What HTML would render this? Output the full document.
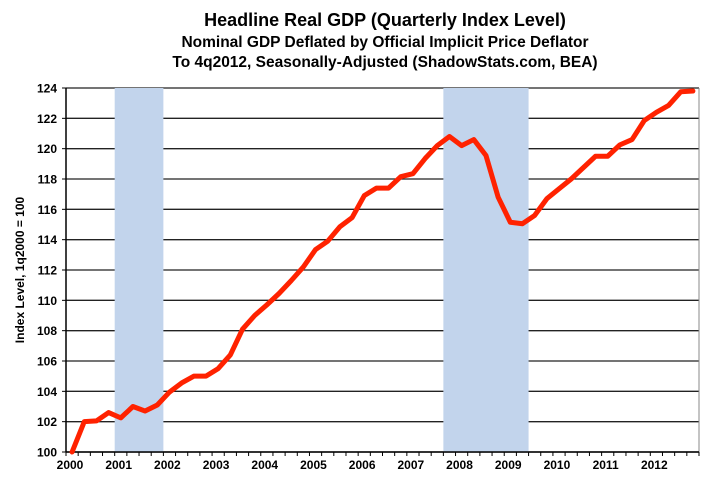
<!DOCTYPE html>
<html><head><meta charset="utf-8"><style>
body{margin:0;background:#fff;}
svg{display:block;font-family:"Liberation Sans",Arial,sans-serif;}
</style></head><body>
<svg id="chart" width="721" height="500" viewBox="0 0 721 500" xmlns="http://www.w3.org/2000/svg">
<g font-weight="bold" text-anchor="middle" fill="#000">
<text x="385" y="26" font-size="18">Headline Real GDP (Quarterly Index Level)</text>
<text x="385" y="47" font-size="15.5">Nominal GDP Deflated by Official Implicit Price Deflator</text>
<text x="385" y="67" font-size="15.5">To 4q2012, Seasonally-Adjusted (ShadowStats.com, BEA)</text>
</g>
<text transform="translate(24,270) rotate(-90)" text-anchor="middle" font-size="12" font-weight="bold">Index Level, 1q2000 = 100</text>
<g id="grid"></g>
<g id="recessions"></g>
<g id="axes"></g>
<g id="series"></g>
</svg>
<script>
const values = [100.0,102.0,102.05,102.6,102.25,103.0,102.7,103.1,103.95,104.55,105.0,105.0,105.5,106.4,108.1,109.0,109.7,110.45,111.3,112.2,113.35,113.9,114.85,115.45,116.9,117.4,117.4,118.15,118.35,119.35,120.2,120.8,120.2,120.6,119.55,116.8,115.15,115.05,115.6,116.7,117.35,118.0,118.75,119.5,119.5,120.25,120.6,121.85,122.4,122.85,123.75,123.8];
const yearLabels = ["2000","2001","2002","2003","2004","2005","2006","2007","2008","2009","2010","2011","2012"];
const yTicks = [100,102,104,106,108,110,112,114,116,118,120,122,124];
const recessionStart = [4,31];
const recessionEnd = [8,38];

const L=66,R=699,T=88,B=452,NQ=52,YMIN=100,YMAX=124;
const qw=(R-L)/NQ;
const xq=q=>L+q*qw;
const xi=i=>L+(i+0.5)*qw;
const y=v=>B-(v-YMIN)/(YMAX-YMIN)*(B-T);
const NS="http://www.w3.org/2000/svg";
function mk(tag,attrs,parent){const e=document.createElementNS(NS,tag);for(const k in attrs)e.setAttribute(k,attrs[k]);parent.appendChild(e);return e;}

const rec=document.getElementById('recessions');
for(let r=0;r<recessionStart.length;r++){
 const e=mk('rect',{x:xq(recessionStart[r]),y:T,width:xq(recessionEnd[r])-xq(recessionStart[r]),height:B-T,fill:'#c2d4ec'},rec);
 
 
}
const grid=document.getElementById('grid');
yTicks.forEach(t=>{
 const g=mk('line',{x1:L,x2:R,y1:y(t),y2:y(t),stroke:'#222','stroke-width':1.3},grid);
 
 
 const lb=mk('text',{x:57,y:y(t)+4.5,'text-anchor':'end','font-size':12,'font-weight':'bold'},grid);
 lb.textContent=t;
 
 
 const tk=mk('line',{x1:L-4,x2:L,y1:y(t),y2:y(t),stroke:'#000'},grid);
 
 
});
const ax=document.getElementById('axes');
const ya=mk('line',{x1:L,x2:L,y1:T,y2:B,stroke:'#000','stroke-width':1.5},ax);


const ra=mk('line',{x1:R,x2:R,y1:T,y2:B,stroke:'#888','stroke-width':1},ax);


const xa=mk('line',{x1:L,x2:R,y1:B,y2:B,stroke:'#000','stroke-width':1.5},ax);


for(let q=0;q<=NQ;q++){
 const tk=mk('line',{x1:xq(q),x2:xq(q),y1:B,y2:B+4,stroke:'#000'},ax);
 
 
}
yearLabels.forEach((lab,i)=>{
 const t=mk('text',{x:xq(i*4)+4,y:B+17,'text-anchor':'middle','font-size':12,'font-weight':'bold'},ax);
 t.textContent=lab;
 
 
});
const s=document.getElementById('series');
const p=mk('polyline',{points:values.map((v,i)=>xi(i)+','+y(v)).join(' '),fill:'none',stroke:'#ff2200','stroke-width':5,'stroke-linejoin':'round','stroke-linecap':'round'},s);


</script>
</body></html>
